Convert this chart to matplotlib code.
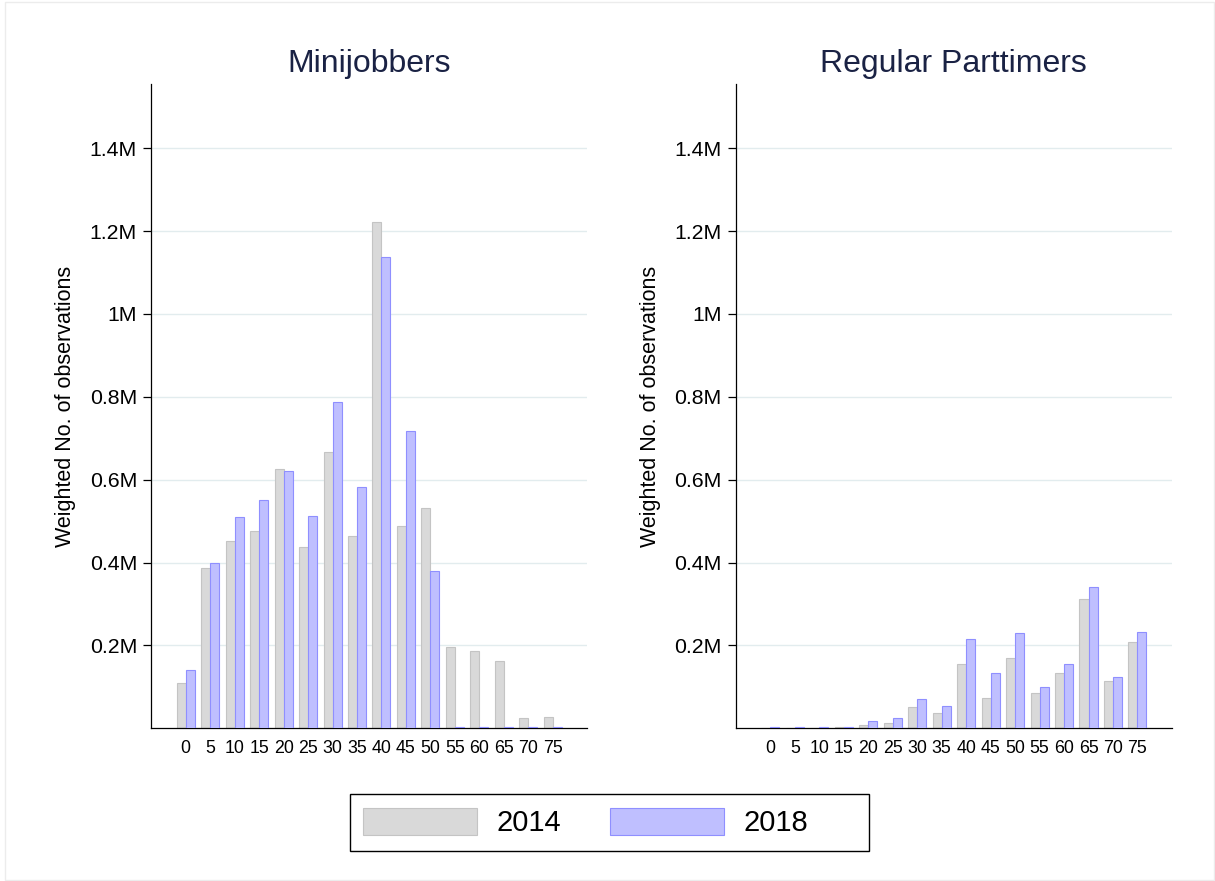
import numpy as np
import matplotlib
matplotlib.use("Agg")
import matplotlib.pyplot as plt
from matplotlib.patches import Rectangle

plt.rcParams['font.family'] = ['Liberation Sans', 'DejaVu Sans']

# Wochenstunden-Kategorien (Balkengruppen)
hours = [0, 5, 10, 15, 20, 25, 30, 35, 40, 45, 50, 55, 60, 65, 70, 75]

# gewichtete Anzahl Beobachtungen, in Millionen
mini_2014 = [0.110, 0.388, 0.452, 0.477, 0.625, 0.438, 0.667, 0.464,
             1.222, 0.488, 0.531, 0.196, 0.187, 0.162, 0.025, 0.028]
mini_2018 = [0.141, 0.398, 0.511, 0.552, 0.621, 0.512, 0.788, 0.583,
             1.138, 0.717, 0.379, 0.002, 0.002, 0.002, 0.002, 0.002]

part_2014 = [0.001, 0.001, 0.001, 0.002, 0.008, 0.013, 0.052, 0.036,
             0.155, 0.074, 0.169, 0.086, 0.134, 0.311, 0.115, 0.209]
part_2018 = [0.002, 0.002, 0.002, 0.004, 0.018, 0.026, 0.071, 0.054,
             0.215, 0.133, 0.229, 0.100, 0.155, 0.341, 0.123, 0.232]

panels = ["Minijobbers", "Regular Parttimers"]
years = ["2014", "2018"]

yticks = [0.2, 0.4, 0.6, 0.8, 1.0, 1.2, 1.4]
ytick_labels = ["0.2M", "0.4M", "0.6M", "0.8M", "1M", "1.2M", "1.4M"]

gray_fc, gray_ec = "#d9d9d9", "#c4c4c4"
blue_fc, blue_ec = "#bfbfff", "#8f8fff"
title_col = "#1a2244"
grid_col = "#e2ecee"

fig = plt.figure(figsize=(12.15, 8.81), dpi=100)
fig.patch.set_facecolor("white")

W, H = 1215.0, 881.0

# duenner Rahmen um die ganze Grafik
fig.patches.append(Rectangle((5 / W, 1 / H), 1209 / W, 878 / H,
                             transform=fig.transFigure, fill=False,
                             edgecolor="#ececec", linewidth=1.0))

ax1 = fig.add_axes([0.12428, 0.17333, 0.35885, 0.73098])
ax2 = fig.add_axes([0.60551, 0.17333, 0.35885, 0.73098])

x = np.arange(len(hours))
w = 0.368

handles = []
for ax, title, d14, d18 in [(ax1, panels[0], mini_2014, mini_2018),
                            (ax2, panels[1], part_2014, part_2018)]:
    for yv in yticks:
        ax.axhline(yv, color=grid_col, linewidth=1.0, zorder=0)
    b1 = ax.bar(x - w / 2, d14, width=w, color=gray_fc, edgecolor=gray_ec,
                linewidth=0.8, zorder=2)
    b2 = ax.bar(x + w / 2, d18, width=w, color=blue_fc, edgecolor=blue_ec,
                linewidth=0.8, zorder=3)
    handles = [b1, b2]

    ax.set_xlim(-1.418, 16.40)
    ax.set_ylim(0, 1.554)
    ax.set_xticks(x)
    ax.set_xticklabels([str(h) for h in hours], fontsize=12.8)
    ax.tick_params(axis="x", length=0, pad=8.5)
    ax.set_yticks(yticks)
    ax.set_yticklabels(ytick_labels, fontsize=15.3)
    ax.tick_params(axis="y", length=6, width=0.9, pad=4, direction="out")

    for s in ["top", "right"]:
        ax.spines[s].set_visible(False)
    for s in ["left", "bottom"]:
        ax.spines[s].set_linewidth(0.9)
        ax.spines[s].set_color("black")

    ax.set_ylabel("Weighted No. of observations", fontsize=15.5)
    ax.yaxis.set_label_coords(-0.171, 0.5)
    ax.set_title(title, fontsize=23, color=title_col, pad=8.5)

# Legende unten, Rahmen separat gezeichnet
fig.legend(handles, years, loc="center left",
           bbox_to_anchor=(350 / W, 1 - 822.6 / H),
           ncol=2, fontsize=21, frameon=False, borderaxespad=0,
           handlelength=3.91, handleheight=1.03, handletextpad=0.665,
           columnspacing=1.66, borderpad=0.456)
fig.patches.append(Rectangle((350 / W, 1 - 850.7 / H), 518.7 / W, 56.4 / H,
                             transform=fig.transFigure, fill=False,
                             edgecolor="black", linewidth=1.0))

fig.savefig("out.png", dpi=100)
